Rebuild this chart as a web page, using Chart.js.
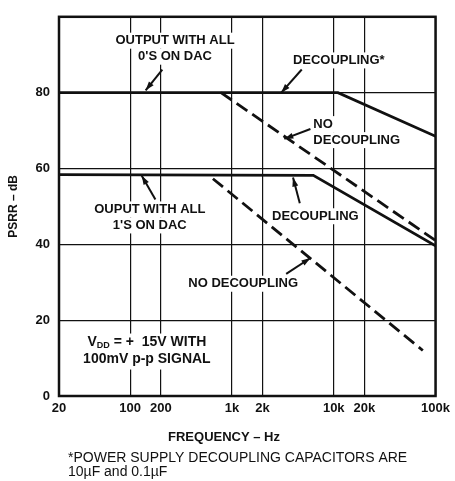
<!DOCTYPE html>
<html>
<head>
<meta charset="utf-8">
<script src="https://cdn.jsdelivr.net/npm/chart.js@4.4.1/dist/chart.umd.min.js"></script>
<style>
  html, body { margin: 0; padding: 0; background: #fff; }
  #caja { width: 455px; height: 481px; }
</style>
</head>
<body>
<div id="caja"><canvas id="grafica" width="455" height="481"></canvas></div>
<script>
// Datos (frecuencia en Hz, PSRR en dB)
const frecTicks = [20, 100, 200, 1000, 2000, 10000, 20000, 100000];
const frecEtiquetas = ["20", "100", "200", "1k", "2k", "10k", "20k", "100k"];
const dbTicks = [0, 20, 40, 60, 80, 100];

// salida con todos 0's en el DAC
const ceros_conDesacoplo_frec = [20, 11000, 100000];
const ceros_conDesacoplo_db = [80, 80, 68.5];
const ceros_sinDesacoplo_frec = [780, 100000];
const ceros_sinDesacoplo_db = [80, 41];

// salida con todos 1's en el DAC
const unos_conDesacoplo_frec = [20, 6300, 100000];
const unos_conDesacoplo_db = [58.4, 58.2, 39.6];
const unos_sinDesacoplo_frec = [650, 75000];
const unos_sinDesacoplo_db = [57.3, 12];

const NEGRO = "#111";
const FUENTE = '"Liberation Sans", Arial, sans-serif';

function puntos(frec, db) {
    return frec.map((f, i) => ({ x: f, y: db[i] }));
}

// Textos de anotacion (anclados en frecuencia / dB)
const notas = [
    { lineas: ["OUTPUT WITH ALL", "0'S ON DAC"], f: 276, db: 93.7, alinear: "center" },
    { lineas: ["DECOUPLING*"], f: 11200, db: 88.5, alinear: "center" },
    { lineas: ["NO", "DECOUPLING"], f: 6300, db: 71.7, alinear: "left" },
    { lineas: ["OUPUT WITH ALL", "1'S ON DAC"], f: 156, db: 49.2, alinear: "center" },
    { lineas: ["DECOUPLING"], f: 6600, db: 47.4, alinear: "center" },
    { lineas: ["NO DECOUPLING"], f: 1290, db: 29.6, alinear: "center" }
];
const flechas = [
    { de: [207, 86.1], a: [142, 80.6] },
    { de: [4850, 86.1], a: [3050, 80] },
    { de: [5900, 70.4], a: [3270, 67.8] },
    { de: [177, 51.8], a: [130, 58.1] },
    { de: [4640, 50.8], a: [3980, 57.6] },
    { de: [3410, 32.2], a: [5900, 36.4] }
];
const notaVdd = { f: 146, db: 14.1 };

const estiloLinea = { borderColor: NEGRO, borderWidth: 2.8, pointRadius: 0, tension: 0, fill: false };

const pluginTextos = {
    id: "textos",
    beforeDatasetsDraw(chart) {
        const ctx = chart.ctx;
        const xs = chart.scales.x, ys = chart.scales.y;
        ctx.save();
        ctx.font = "bold 13px " + FUENTE;
        ctx.fillStyle = "#fff";
        notas.forEach(n => {
            const x = xs.getPixelForValue(n.f), y = ys.getPixelForValue(n.db);
            n.lineas.forEach((t, i) => {
                const w = ctx.measureText(t).width;
                const x0 = n.alinear === "center" ? x - w / 2 : x;
                ctx.fillRect(x0 - 3, y + i * 16 - 8, w + 6, 16);
            });
        });
        const vx = xs.getPixelForValue(notaVdd.f), vy = ys.getPixelForValue(notaVdd.db);
        ctx.fillRect(vx - 68, vy - 9, 136, 36);
        ctx.restore();
    },
    afterDatasetsDraw(chart) {
        const ctx = chart.ctx;
        const xs = chart.scales.x, ys = chart.scales.y;
        const area = chart.chartArea;
        ctx.save();
        // marco
        ctx.strokeStyle = NEGRO;
        ctx.lineWidth = 2.5;
        ctx.strokeRect(area.left, area.top, area.right - area.left, area.bottom - area.top);

        ctx.fillStyle = NEGRO;
        ctx.font = "bold 13px " + FUENTE;
        ctx.textBaseline = "middle";
        notas.forEach(n => {
            const x = xs.getPixelForValue(n.f), y = ys.getPixelForValue(n.db);
            ctx.textAlign = n.alinear;
            n.lineas.forEach((t, i) => ctx.fillText(t, x, y + i * 16));
        });

        // flechas
        ctx.lineWidth = 2;
        flechas.forEach(fl => {
            const x0 = xs.getPixelForValue(fl.de[0]), y0 = ys.getPixelForValue(fl.de[1]);
            const x1 = xs.getPixelForValue(fl.a[0]), y1 = ys.getPixelForValue(fl.a[1]);
            const ang = Math.atan2(y1 - y0, x1 - x0);
            ctx.beginPath();
            ctx.moveTo(x0, y0);
            ctx.lineTo(x1, y1);
            ctx.stroke();
            ctx.beginPath();
            ctx.moveTo(x1, y1);
            ctx.lineTo(x1 - 9 * Math.cos(ang) + 3 * Math.sin(ang), y1 - 9 * Math.sin(ang) - 3 * Math.cos(ang));
            ctx.lineTo(x1 - 9 * Math.cos(ang) - 3 * Math.sin(ang), y1 - 9 * Math.sin(ang) + 3 * Math.cos(ang));
            ctx.closePath();
            ctx.fill();
        });

        // VDD = + 15V WITH / 100mV p-p SIGNAL
        const vx = xs.getPixelForValue(notaVdd.f), vy = ys.getPixelForValue(notaVdd.db);
        ctx.textAlign = "left";
        const fGrande = "bold 14px " + FUENTE, fSub = "bold 9px " + FUENTE;
        ctx.font = fGrande; const wV = ctx.measureText("V").width;
        ctx.font = fSub; const wDD = ctx.measureText("DD").width;
        ctx.font = fGrande; const resto = " = +  15V WITH"; const wR = ctx.measureText(resto).width;
        let x = vx - (wV + wDD + wR) / 2;
        ctx.fillText("V", x, vy); x += wV;
        ctx.font = fSub; ctx.fillText("DD", x, vy + 3); x += wDD;
        ctx.font = fGrande; ctx.fillText(resto, x, vy);
        ctx.textAlign = "center";
        ctx.fillText("100mV p-p SIGNAL", vx, vy + 17);

        ctx.restore();
    },
    afterDraw(chart) {
        const ctx = chart.ctx;
        ctx.save();
        ctx.fillStyle = NEGRO;
        ctx.textBaseline = "middle";
        ctx.font = "bold 13px " + FUENTE;
        ctx.textAlign = "center";
        ctx.fillText("FREQUENCY \u2013 Hz", 224, 437);
        ctx.font = "14px " + FUENTE;
        ctx.textAlign = "left";
        ctx.fillText("*POWER SUPPLY DECOUPLING CAPACITORS ARE", 68, 458);
        ctx.fillText("10\u00b5F and 0.1\u00b5F", 68, 472);
        ctx.restore();
    }
};

const lienzo = document.getElementById("grafica").getContext("2d");
let grafica = new Chart(lienzo, {
    type: "line",
    data: {
        datasets: [
            { ...estiloLinea, label: "0's decoupling", data: puntos(ceros_conDesacoplo_frec, ceros_conDesacoplo_db) },
            { ...estiloLinea, label: "0's no decoupling", borderDash: [13, 6], data: puntos(ceros_sinDesacoplo_frec, ceros_sinDesacoplo_db) },
            { ...estiloLinea, label: "1's decoupling", data: puntos(unos_conDesacoplo_frec, unos_conDesacoplo_db) },
            { ...estiloLinea, label: "1's no decoupling", borderDash: [13, 6], data: puntos(unos_sinDesacoplo_frec, unos_sinDesacoplo_db) }
        ]
    },
    options: {
        responsive: false,
        animation: false,
        devicePixelRatio: 1,
        layout: { padding: { top: 14, right: 10, left: 0, bottom: 0 } },
        plugins: { legend: { display: false }, tooltip: { enabled: false } },
        scales: {
            x: {
                type: "logarithmic",
                min: 20,
                max: 100000,
                afterBuildTicks: (eje) => { eje.ticks = frecTicks.map(v => ({ value: v })); },
                afterFit: (eje) => { eje.height = 85; },
                grid: { color: NEGRO, lineWidth: 1.2, drawTicks: false },
                border: { display: false },
                ticks: {
                    color: NEGRO,
                    font: { family: FUENTE, size: 13, weight: "bold" },
                    padding: 5,
                    maxRotation: 0,
                    autoSkip: false,
                    callback: (v, i) => frecEtiquetas[i]
                }
            },
            y: {
                min: 0,
                max: 100,
                afterBuildTicks: (eje) => { eje.ticks = dbTicks.map(v => ({ value: v })); },
                afterFit: (eje) => { eje.width = 59; },
                grid: { color: NEGRO, lineWidth: 1.2, drawTicks: false },
                border: { display: false },
                title: {
                    display: true,
                    text: "PSRR \u2013 dB",
                    color: NEGRO,
                    font: { family: FUENTE, size: 12, weight: "bold" },
                    padding: { top: 6, bottom: 0 }
                },
                ticks: {
                    color: NEGRO,
                    font: { family: FUENTE, size: 13, weight: "bold" },
                    padding: 9,
                    callback: (v) => (v === 100 ? "" : v)
                }
            }
        }
    },
    plugins: [pluginTextos]
});
</script>
</body>
</html>
